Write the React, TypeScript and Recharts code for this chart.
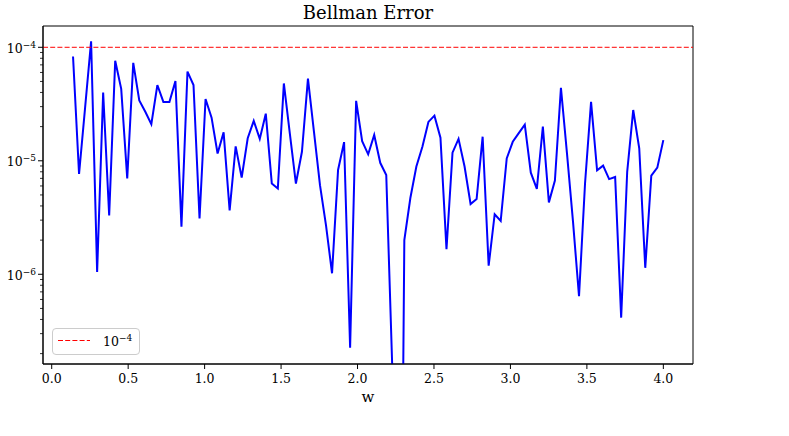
import { LineChart, Line, XAxis, YAxis, ReferenceLine, ReferenceArea } from 'recharts';

const FONT = '"DejaVu Serif", serif';

// w grid (x values)
const wValues = [
  0.1394, 0.1788, 0.2182, 0.2576, 0.297, 0.3364, 0.3758, 0.4152, 0.4545, 0.4939,
  0.5333, 0.5727, 0.6121, 0.6515, 0.6909, 0.7303, 0.7697, 0.8091, 0.8485, 0.8879,
  0.9273, 0.9667, 1.0061, 1.0455, 1.0848, 1.1242, 1.1636, 1.203, 1.2424, 1.2818,
  1.3212, 1.3606, 1.4, 1.4394, 1.4788, 1.5182, 1.5576, 1.597, 1.6364, 1.6758,
  1.7152, 1.7545, 1.7939, 1.8333, 1.8727, 1.9121, 1.9515, 1.9909, 2.0303, 2.0697,
  2.1091, 2.1485, 2.1879, 2.2273, 2.2667, 2.3061, 2.3455, 2.3848, 2.4242, 2.4636,
  2.503, 2.5424, 2.5818, 2.6212, 2.6606, 2.7, 2.7394, 2.7788, 2.8182, 2.8576,
  2.897, 2.9364, 2.9758, 3.0152, 3.0545, 3.0939, 3.1333, 3.1727, 3.2121, 3.2515,
  3.2909, 3.3303, 3.3697, 3.4091, 3.4485, 3.4879, 3.5273, 3.5667, 3.6061, 3.6455,
  3.6848, 3.7242, 3.7636, 3.803, 3.8424, 3.8818, 3.9212, 3.9606, 4.0,
];

// Bellman error (two points fall below the axis floor)
const bellmanError = [
  8.3e-5, 7.65e-6, 2.93e-5, 1.13e-4, 1.05e-6, 4.0e-5, 3.3e-6, 7.6e-5, 4.3e-5, 7.0e-6,
  7.3e-5, 3.4e-5, 2.7e-5, 2.1e-5, 4.65e-5, 3.3e-5, 3.3e-5, 5.05e-5, 2.63e-6, 6.1e-5,
  4.65e-5, 3.1e-6, 3.5e-5, 2.4e-5, 1.16e-5, 1.78e-5, 3.66e-6, 1.34e-5, 7.1e-6, 1.58e-5,
  2.25e-5, 1.56e-5, 2.6e-5, 6.3e-6, 5.7e-6, 4.8e-5, 1.73e-5, 6.3e-6, 1.2e-5, 5.3e-5,
  1.8e-5, 6.1e-6, 2.7e-6, 1.02e-6, 8.3e-6, 1.46e-5, 2.25e-7, 3.37e-5, 1.49e-5, 1.14e-5,
  1.69e-5, 9.6e-6, 7.5e-6, 1.5e-7, 1e-12, 2.0e-6, 4.7e-6, 8.9e-6, 1.33e-5, 2.2e-5,
  2.5e-5, 1.6e-5, 1.66e-6, 1.18e-5, 1.56e-5, 8.9e-6, 4.16e-6, 4.6e-6, 1.63e-5, 1.19e-6,
  3.38e-6, 2.95e-6, 1.05e-5, 1.47e-5, 1.75e-5, 2.08e-5, 7.85e-6, 5.65e-6, 2.0e-5, 4.3e-6,
  6.7e-6, 4.4e-5, 1.17e-5, 2.92e-6, 6.4e-7, 6.3e-6, 3.3e-5, 8.24e-6, 9.06e-6, 6.9e-6,
  7.2e-6, 4.15e-7, 8.0e-6, 2.8e-5, 1.29e-5, 1.14e-6, 7.4e-6, 8.7e-6, 1.52e-5,
];

const xTicks = [0, 0.5, 1, 1.5, 2, 2.5, 3, 3.5, 4];
const yTicks = [
  2e-7, 3e-7, 4e-7, 5e-7, 6e-7, 7e-7, 8e-7, 9e-7,
  1e-6, 2e-6, 3e-6, 4e-6, 5e-6, 6e-6, 7e-6, 8e-6, 9e-6,
  1e-5, 2e-5, 3e-5, 4e-5, 5e-5, 6e-5, 7e-5, 8e-5, 9e-5,
  1e-4,
];
const threshold = 1e-4;
const xDomain = [-0.057, 4.194];
const yDomain = [1.62e-7, 1.54e-4];

const data = wValues.map((w, i) => ({ w, err: bellmanError[i] }));

function LogTick(props: any) {
  const { x, y, payload } = props;
  const lg = Math.log10(payload.value);
  const exp = Math.round(lg);
  const major = Math.abs(lg - exp) < 1e-6;
  return (
    <g>
      <line x1={x - (major ? 5 : 3)} x2={x} y1={y} y2={y} stroke="#000" strokeWidth={major ? 1 : 0.8} />
      {major && (
        <text x={x - 7} y={y + 5.4} textAnchor="end" fontFamily={FONT} fontSize={12.5} fill="#000">
          10
          <tspan dy={-5} fontSize={9}>{'\u2212' + -exp}</tspan>
        </text>
      )}
    </g>
  );
}

export default function App() {
  return (
    <div style={{ position: 'absolute', left: 0, top: 0, width: 789, height: 436, background: '#fff' }}>
      <div
        style={{
          position: 'absolute',
          left: 43,
          top: 4,
          width: 650,
          textAlign: 'center',
          fontFamily: FONT,
          fontSize: 18,
          lineHeight: '18px',
          color: '#000',
        }}
      >
        Bellman Error
      </div>
      <LineChart width={789} height={436} data={data} margin={{ top: 26, right: 96, bottom: 0, left: 0 }}>
        <XAxis
          dataKey="w"
          type="number"
          domain={xDomain}
          allowDataOverflow
          ticks={xTicks}
          interval={0}
          tickFormatter={(v: number) => v.toFixed(1)}
          height={72}
          tickSize={5}
          tickMargin={5}
          stroke="#000"
          tick={{ fill: '#000', fontSize: 12.5, fontFamily: FONT }}
          label={{ value: 'w', position: 'insideBottom', offset: 34, fontSize: 15, fontFamily: FONT, fill: '#000' }}
        />
        <YAxis
          type="number"
          scale="log"
          domain={yDomain}
          allowDataOverflow
          ticks={yTicks}
          interval={0}
          width={43}
          tickSize={0}
          tickMargin={0}
          tickLine={false}
          axisLine={{ stroke: '#000' }}
          tick={(p: any) => <LogTick {...p} />}
        />
        <ReferenceArea
          x1={xDomain[0]}
          x2={xDomain[1]}
          y1={yDomain[0]}
          y2={yDomain[1]}
          fill="none"
          fillOpacity={0}
          stroke="#000"
          strokeWidth={1}
          ifOverflow="visible"
        />
        <Line type="linear" dataKey="err" stroke="#0000ff" strokeWidth={2} dot={false} isAnimationActive={false} />
        <ReferenceLine y={threshold} stroke="#ff0000" strokeWidth={1} strokeDasharray="5 2.2" />
      </LineChart>
      <div
        style={{
          position: 'absolute',
          left: 52,
          top: 328,
          width: 88,
          height: 27,
          boxSizing: 'border-box',
          border: '1px solid #cccccc',
          borderRadius: 4,
          background: 'rgba(255,255,255,0.8)',
        }}
      >
        <svg width={86} height={25} style={{ display: 'block' }}>
          <line x1={5} x2={37} y1={11.5} y2={11.5} stroke="#ff0000" strokeWidth={1} strokeDasharray="5 2.2" />
          <text x={50} y={17} fontFamily={FONT} fontSize={12.5} fill="#000">
            10
            <tspan dy={-5} fontSize={9}>{'\u22124'}</tspan>
          </text>
        </svg>
      </div>
    </div>
  );
}
